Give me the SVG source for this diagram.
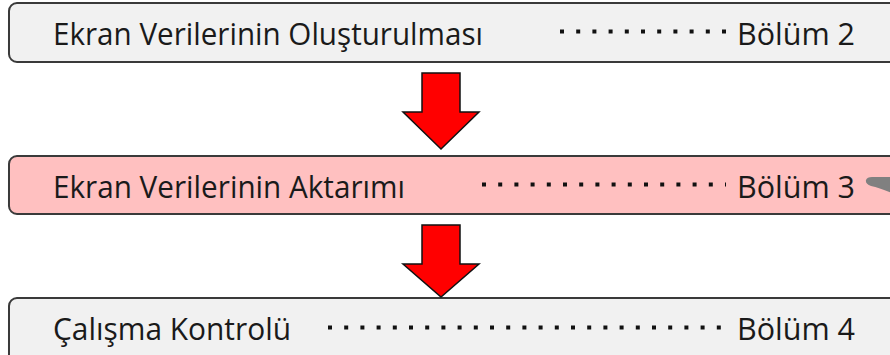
<svg xmlns="http://www.w3.org/2000/svg" width="890" height="355" viewBox="0 0 890 355">
<style>
.box{stroke:#3a3a3a;stroke-width:2}
.plain{fill:#f1f1f1}
.pink{fill:#ffc0c0}
.t{font-family:"Open Sans","Noto Sans","Liberation Sans",sans-serif;font-size:31px;fill:#1a1a1a}
.lead{stroke:#111;stroke-width:4;stroke-dasharray:4 12.2}
.arrow{fill:#ff0000;stroke:#111;stroke-width:1.5;stroke-linejoin:miter}
</style>
<rect width="890" height="355" fill="#ffffff"/>
<g id="node1">
<rect class="box plain" x="9" y="3" width="900" height="59" rx="8"/>
<text class="t" x="53" y="45" textLength="430" lengthAdjust="spacingAndGlyphs">Ekran Verilerinin Oluşturulması</text>
<line class="lead" x1="560" y1="31.5" x2="726" y2="31.5"/>
<text class="t" x="737" y="45" textLength="118" lengthAdjust="spacingAndGlyphs">Bölüm 2</text>
</g>
<g id="node2">
<rect class="box pink" x="9" y="156" width="900" height="58" rx="8"/>
<text class="t" x="53" y="198" textLength="352" lengthAdjust="spacingAndGlyphs">Ekran Verilerinin Aktarımı</text>
<line class="lead" x1="482" y1="184.5" x2="726" y2="184.5"/>
<text class="t" x="737" y="198" textLength="118" lengthAdjust="spacingAndGlyphs">Bölüm 3</text>
<path d="M872 177 L892 177 L892 193 Q880 188 871 186 Q865 184 866 180 Q867 177 872 177 Z" fill="#808080"/>
</g>
<g id="node3">
<rect class="box plain" x="9" y="298" width="900" height="70" rx="8"/>
<text class="t" x="53" y="340" textLength="238" lengthAdjust="spacingAndGlyphs">Çalışma Kontrolü</text>
<line class="lead" x1="328" y1="327.5" x2="726" y2="327.5"/>
<text class="t" x="737" y="340" textLength="118" lengthAdjust="spacingAndGlyphs">Bölüm 4</text>
</g>
<g id="connectors">
<path class="arrow" d="M422 73 L460 73 L460 112 L479 112 L441 149 L403 112 L422 112 Z"/>
<path class="arrow" d="M422 225 L460 225 L460 264 L479 264 L441 297 L403 264 L422 264 Z"/>
</g>
</svg>
